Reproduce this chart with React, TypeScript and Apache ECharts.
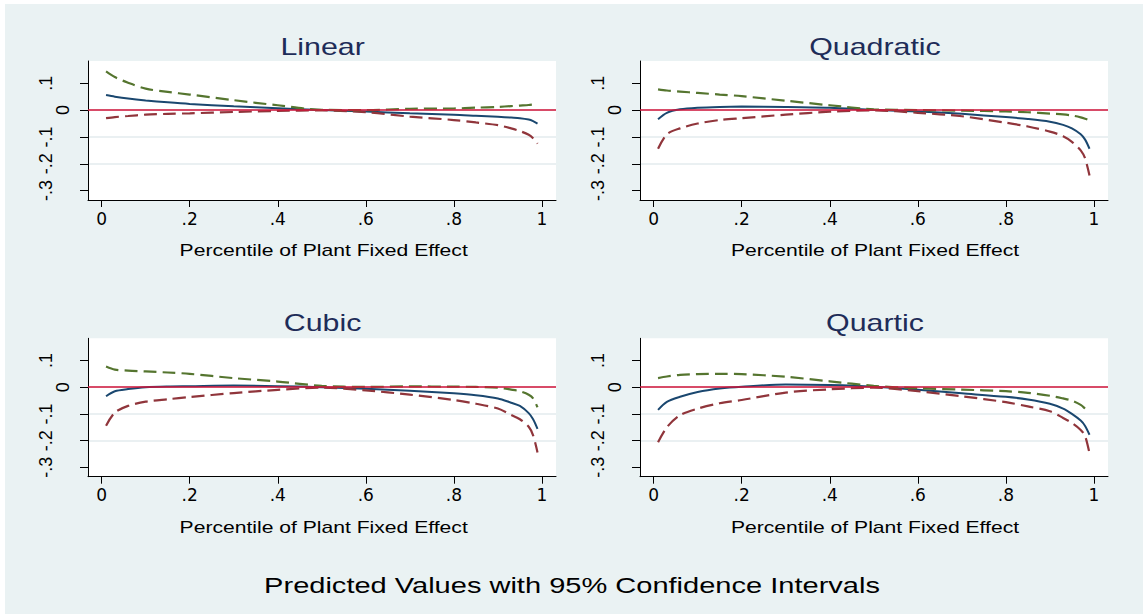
import React, { useEffect, useRef } from "react";
import * as echarts from "echarts";

// Percentile of plant fixed effect (x positions of the plotted predictions)
const pctile = [0.01, 0.03, 0.06, 0.1, 0.15, 0.2, 0.3, 0.4, 0.5, 0.6, 0.7, 0.8, 0.85, 0.9, 0.93, 0.95, 0.97, 0.98, 0.99];

// Linear
const linearFit = [0.056, 0.05, 0.043, 0.036, 0.029, 0.023, 0.014, 0.007, 0.0, -0.005, -0.012, -0.017, -0.021, -0.025, -0.028, -0.03, -0.035, -0.041, -0.05];
const linearLo = [-0.03, -0.026, -0.022, -0.017, -0.014, -0.012, -0.007, -0.003, -0.001, -0.008, -0.024, -0.037, -0.046, -0.056, -0.068, -0.078, -0.092, -0.105, -0.125];
const linearHi = [0.144, 0.123, 0.102, 0.08, 0.068, 0.058, 0.037, 0.018, 0.001, 0.0, 0.005, 0.006, 0.009, 0.012, 0.015, 0.017, 0.019, 0.021, 0.023];

// Quadratic
const quadFit = [-0.034, -0.01, 0.003, 0.009, 0.012, 0.013, 0.012, 0.009, 0.001, -0.005, -0.014, -0.026, -0.033, -0.043, -0.055, -0.068, -0.09, -0.11, -0.144];
const quadLo = [-0.144, -0.09, -0.068, -0.05, -0.037, -0.03, -0.017, -0.006, -0.001, -0.01, -0.023, -0.047, -0.061, -0.08, -0.097, -0.118, -0.15, -0.18, -0.244];
const quadHi = [0.0775, 0.073, 0.069, 0.064, 0.058, 0.052, 0.035, 0.018, 0.003, 0.0, -0.002, -0.005, -0.008, -0.013, -0.016, -0.02, -0.027, -0.032, -0.038];

// Cubic
const cubicFit = [-0.034, -0.015, -0.007, 0.0, 0.003, 0.004, 0.006, 0.004, 0.0, -0.006, -0.013, -0.023, -0.03, -0.042, -0.058, -0.07, -0.097, -0.12, -0.156];
const cubicLo = [-0.144, -0.095, -0.07, -0.054, -0.045, -0.037, -0.022, -0.01, -0.002, -0.012, -0.028, -0.048, -0.062, -0.08, -0.104, -0.12, -0.148, -0.18, -0.244];
const cubicHi = [0.0775, 0.066, 0.062, 0.059, 0.055, 0.05, 0.034, 0.021, 0.005, 0.001, 0.003, 0.002, 0.001, -0.002, -0.009, -0.015, -0.028, -0.042, -0.075];

// Quartic
const quartFit = [-0.085, -0.055, -0.036, -0.018, -0.005, 0.002, 0.01, 0.008, 0.002, -0.01, -0.023, -0.036, -0.046, -0.062, -0.08, -0.1, -0.125, -0.145, -0.178];
const quartLo = [-0.206, -0.15, -0.105, -0.08, -0.06, -0.048, -0.02, -0.008, -0.002, -0.015, -0.034, -0.056, -0.072, -0.09, -0.115, -0.134, -0.16, -0.183, -0.248];
const quartHi = [0.034, 0.04, 0.046, 0.049, 0.05, 0.049, 0.039, 0.022, 0.005, -0.004, -0.009, -0.015, -0.021, -0.032, -0.042, -0.05, -0.066, -0.08, -0.094];

const panelTitles = ["Linear", "Quadratic", "Cubic", "Quartic"];
const xTicks = [0, 0.2, 0.4, 0.6, 0.8, 1];
const yTicks = [-0.3, -0.2, -0.1, 0, 0.1];
const xAxisTitle = "Percentile of Plant Fixed Effect";
const mainTitle = "Predicted Values with 95% Confidence Intervals";

const panels = [
  { fit: linearFit, lo: linearLo, hi: linearHi },
  { fit: quadFit, lo: quadLo, hi: quadHi },
  { fit: cubicFit, lo: cubicLo, hi: cubicHi },
  { fit: quartFit, lo: quartLo, hi: quartHi },
];

const OX = 5;
const OY = 4;
const NAVY = "#1a476f";
const MAROON = "#90353b";
const GREEN = "#55752f";
const ZERO = "#d2143a";
const BG = "#eaf2f3";
const GRIDC = "#e3ebee";
const TITLEC = "#1e2c58";

const gridBoxes = [
  { left: 88, top: 61, width: 468, height: 139 },
  { left: 640, top: 61, width: 468, height: 139 },
  { left: 88, top: 338.3, width: 468, height: 138.4 },
  { left: 640, top: 338.3, width: 468, height: 138.4 },
];
const titlePos = [
  [322.6, 47],
  [875, 47],
  [322.6, 323.3],
  [875, 323.3],
];
const namePos = [
  [323.7, 250],
  [875, 250],
  [323.7, 527.3],
  [875, 527.3],
];

const fmtX = (v: number) => (v === 0 ? "0" : v === 1 ? "1" : "." + Math.round(v * 10));
const fmtY = (v: number) => {
  if (Math.abs(v) < 1e-9) return "0";
  return (v < 0 ? "-" : "") + "." + Math.round(Math.abs(v) * 10);
};

export default function App() {
  const ref = useRef<HTMLDivElement>(null);
  useEffect(() => {
    if (!ref.current) return;
    const chart = echarts.init(ref.current, null, { renderer: "svg" });
    const grid = gridBoxes.map((g) => ({
      left: g.left - OX,
      top: g.top - OY,
      width: g.width,
      height: g.height,
      show: true,
      backgroundColor: "#ffffff",
      borderWidth: 0,
      containLabel: false,
    }));
    const xAxis = gridBoxes.map((_, i) => ({
      type: "value",
      gridIndex: i,
      min: -0.031,
      max: 1.032,
      axisLine: { show: true, onZero: false, lineStyle: { color: "#000", width: 1 } },
      axisTick: { show: true, length: 7, customValues: xTicks, lineStyle: { color: "#000", width: 1 } },
      axisLabel: {
        customValues: xTicks,
        formatter: fmtX,
        color: "#000",
        fontFamily: "DejaVu Sans",
        fontSize: 17,
        margin: 10,
      },
      splitLine: { show: false },
    }));
    const yAxis = gridBoxes.map((_, i) => ({
      type: "value",
      gridIndex: i,
      min: -0.335,
      max: 0.183,
      axisLine: { show: true, onZero: false, lineStyle: { color: "#000", width: 1 } },
      axisTick: { show: true, length: 8, customValues: yTicks, lineStyle: { color: "#000", width: 1 } },
      axisLabel: {
        customValues: yTicks,
        rotate: 90,
        margin: 16,
        formatter: (v: number) => (Math.abs(v) < 1e-9 ? "{z|0}" : "{n|" + fmtY(v) + "}"),
        rich: {
          z: { color: "#000", fontFamily: "Liberation Sans", fontSize: 18 },
          n: { color: "#000", fontFamily: "Liberation Sans", fontSize: 18, padding: [0, 0, 17, 0] },
        },
      },
      splitLine: {
        show: true,
        showMinLine: false,
        showMaxLine: false,
        lineStyle: { color: GRIDC, width: 1.5 },
      },
    }));
    const series: any[] = [];
    panels.forEach((p, i) => {
      const mk = (arr: number[]) => pctile.map((x, k) => [x, arr[k]]);
      series.push({
        type: "line",
        xAxisIndex: i,
        yAxisIndex: i,
        data: mk(p.fit),
        showSymbol: false,
        smooth: 0.3,
        lineStyle: { color: NAVY, width: 2, type: "solid" },
        markLine: {
          silent: true,
          symbol: ["none", "none"],
          label: { show: false },
          lineStyle: { color: ZERO, width: 1.5, type: "solid" },
          data: [{ yAxis: 0 }],
        },
      });
      series.push({
        type: "line",
        xAxisIndex: i,
        yAxisIndex: i,
        data: mk(p.lo),
        showSymbol: false,
        smooth: 0.3,
        lineStyle: { color: MAROON, width: 2.2, type: [13, 6] },
      });
      series.push({
        type: "line",
        xAxisIndex: i,
        yAxisIndex: i,
        data: mk(p.hi),
        showSymbol: false,
        smooth: 0.3,
        lineStyle: { color: GREEN, width: 2.2, type: [13, 6] },
      });
    });
    const SX = 1.32;
    const graphic: any[] = [];
    panelTitles.forEach((t, i) => {
      graphic.push({
        type: "text",
        x: titlePos[i][0] - OX,
        y: titlePos[i][1] - OY,
        scaleX: SX,
        style: {
          text: t,
          fill: TITLEC,
          font: '23px "Liberation Sans"',
          textAlign: "center",
          textVerticalAlign: "middle",
        },
      });
      graphic.push({
        type: "text",
        x: namePos[i][0] - OX,
        y: namePos[i][1] - OY,
        scaleX: SX,
        style: {
          text: xAxisTitle,
          fill: "#000",
          font: '16px "Liberation Sans"',
          textAlign: "center",
          textVerticalAlign: "middle",
        },
      });
    });
    graphic.push({
      type: "text",
      x: 572 - OX,
      y: 585 - OY,
      scaleX: SX,
      style: {
        text: mainTitle,
        fill: "#000",
        font: '22px "Liberation Sans"',
        textAlign: "center",
        textVerticalAlign: "middle",
      },
    });
    chart.setOption({
      animation: false,
      backgroundColor: BG,
      grid,
      xAxis,
      yAxis,
      series,
      graphic,
    });
    return () => chart.dispose();
  }, []);
  return (
    <div style={{ position: "fixed", left: 0, top: 0, width: 1143, height: 614, background: "#ffffff" }}>
      <div ref={ref} style={{ position: "absolute", left: OX, top: OY, width: 1143 - OX, height: 614 - OY }} />
    </div>
  );
}
